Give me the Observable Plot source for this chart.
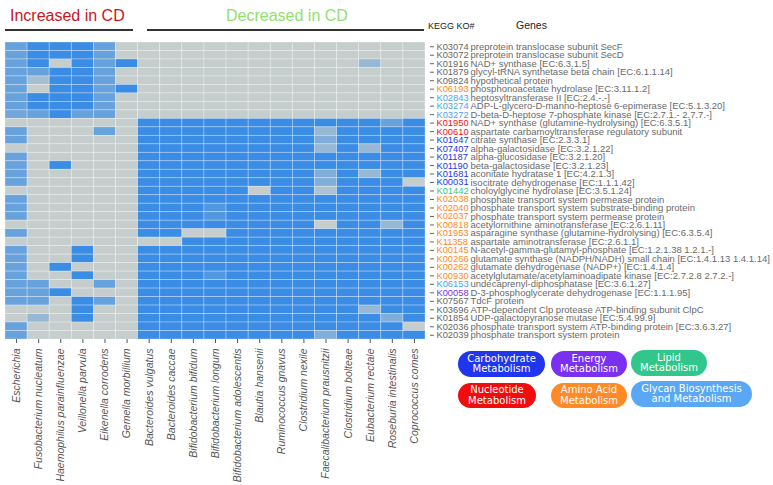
<!DOCTYPE html>
<html>
<head>
<meta charset="utf-8">
<script src="https://cdn.jsdelivr.net/npm/d3@7"></script>
<script src="https://cdn.jsdelivr.net/npm/@observablehq/plot@0.6"></script>
<style>
  body { margin: 0; background: #fff; }
  #wrap { position: relative; width: 773px; height: 485px; overflow: hidden; font-family: "Liberation Sans", Arial, sans-serif; }
  #chart { position: absolute; left: 0; top: 0; }
  .hdr { position: absolute; white-space: nowrap; line-height: 16px; }
  .rule { position: absolute; height: 1.5px; background: #333; }
  .pill { position: absolute; display: flex; align-items: center; justify-content: center; text-align: center;
          color: #fff; font-family: "DejaVu Sans", Verdana, sans-serif; font-size: 10px; line-height: 10.5px;
          border-radius: 13px; }
</style>
</head>
<body>
<div id="wrap">
  <div id="chart"></div>
  <div class="hdr" style="left:10px;top:8px;font-size:16px;color:#c8161d;">Increased in CD</div>
  <div class="hdr" style="left:226px;top:8px;font-size:16px;color:#8fe06c;">Decreased in CD</div>
  <div class="rule" style="left:5px;top:29px;width:128px;"></div>
  <div class="rule" style="left:147px;top:29px;width:277px;"></div>
  <div class="hdr" style="left:428px;top:18px;font-size:9px;color:#222;">KEGG KO#</div>
  <div class="hdr" style="left:516px;top:17px;font-size:10.5px;color:#222;">Genes</div>
  <div id="legend"></div>
</div>
<script>
const species = [
  "Escherichia", "Fusobacterium nucleatum", "Haemophilus parainfluenzae", "Veillonella parvula",
  "Eikenella corrodens", "Gemella morbillium", "Bacteroides vulgatus", "Bacteroides caccae",
  "Bifidobacterium bifidum", "Bifidobacterium longum", "Bifidobacterium adolescentis", "Blautia hansenii",
  "Ruminococcus gnavus", "Clostridium nexile", "Faecalibacterium prausnitzii", "Clostridium bolteae",
  "Eubacterium rectale", "Roseburia intestinalis", "Coprococcus comes"
];

const kos = [
  "K03074","K03072","K01916","K01879","K09824","K06193","K02843","K03274","K03272",
  "K01950","K00610","K01647","K07407","K01187","K01190","K01681","K00031","K01442",
  "K02038","K02040","K02037","K00818","K01953","K11358","K00145","K00266","K00262",
  "K00930","K06153","K00058","K07567","K03696","K01854","K02036","K02039"
];

const genes = [
  "preprotein translocase subunit SecF",
  "preprotein translocase subunit SecD",
  "NAD+ synthase [EC:6.3.1.5]",
  "glycyl-tRNA synthetase beta chain [EC:6.1.1.14]",
  "hypothetical protein",
  "phosphonoacetate hydrolase [EC:3.11.1.2]",
  "heptosyltransferase II [EC:2.4.-.-]",
  "ADP-L-glycero-D-manno-heptose 6-epimerase [EC:5.1.3.20]",
  "D-beta-D-heptose 7-phosphate kinase [EC:2.7.1.- 2.7.7.-]",
  "NAD+ synthase (glutamine-hydrolysing) [EC:6.3.5.1]",
  "aspartate carbamoyltransferase regulatory subunit",
  "citrate synthase [EC:2.3.3.1]",
  "alpha-galactosidase [EC:3.2.1.22]",
  "alpha-glucosidase [EC:3.2.1.20]",
  "beta-galactosidase [EC:3.2.1.23]",
  "aconitate hydratase 1 [EC:4.2.1.3]",
  "isocitrate dehydrogenase [EC:1.1.1.42]",
  "choloylglycine hydrolase [EC:3.5.1.24]",
  "phosphate transport system permease protein",
  "phosphate transport system substrate-binding protein",
  "phosphate transport system permease protein",
  "acetylornithine aminotransferase [EC:2.6.1.11]",
  "asparagine synthase (glutamine-hydrolysing) [EC:6.3.5.4]",
  "aspartate aminotransferase [EC:2.6.1.1]",
  "N-acetyl-gamma-glutamyl-phosphate [EC:1.2.1.38 1.2.1.-]",
  "glutamate synthase (NADPH/NADH) small chain [EC:1.4.1.13 1.4.1.14]",
  "glutamate dehydrogenase (NADP+) [EC:1.4.1.4]",
  "acetylglutamate/acetylaminoadipate kinase [EC:2.7.2.8 2.7.2.-]",
  "undecaprenyl-diphosphatase [EC:3.6.1.27]",
  "D-3-phosphoglycerate dehydrogenase [EC:1.1.1.95]",
  "TdcF protein",
  "ATP-dependent Clp protease ATP-binding subunit ClpC",
  "UDP-galactopyranose mutase [EC:5.4.99.9]",
  "phosphate transport system ATP-binding protein [EC:3.6.3.27]",
  "phosphate transport system protein"
];

// metabolism category of each KO (none = uncategorised)
const categories = [
  "none","none","none","none","none","amino","glycan","glycan","glycan",
  "nucleotide","nucleotide","carb","carb","carb","carb","carb","carb","lipid",
  "amino","amino","amino","amino","amino","amino","amino","amino","amino",
  "amino","glycan","energy","none","none","none","none","none"
];

const categoryNames = ["carb","energy","lipid","nucleotide","amino","glycan","none"];
const categoryColors = ["#2236ee","#7b2ff0","#2fc98c","#f21010","#ff8a24","#4a9ff2","#666666"];
const legendLabels = ["Carbohydrate<br>Metabolism","Energy<br>Metabolism","Lipid<br>Metabolism",
                      "Nucleotide<br>Metabolism","Amino Acid<br>Metabolism","Glycan Biosynthesis<br>and Metabolism"];
const legendFills = ["#1f35ee","#7b2ff0","#30c68c","#f20d0d","#ff8a26","#5aa8f5"];

// presence level (0 = absent/grey ... 3 = strong blue), rows = KOs, columns = species
const values = [
  [2,3,3,3,2,0, 0,0,0,0,0,0,0,0,0,0,0,0,0],
  [2,3,3,3,2,0, 0,0,0,0,0,0,0,0,0,0,0,0,0],
  [2,3,0,3,2,3, 0,0,0,0,0,0,0,0,0,0,1,0,0],
  [2,2,3,3,2,0, 0,0,0,0,0,0,0,0,0,0,0,0,0],
  [2,0.7,3,3,2,0, 0,0,0,0,0,0,0,0,0,0,0,0,0],
  [2,0,3,3,2,3, 0,0,0,0,0,0,0,0,0,0,0,0,0],
  [2,3,3,3,2,0, 0,0,0,0,0,0,0,0,0,0,0,0,0],
  [2,3,3,3,2,0, 0,0,0,0,0,0,0,0,0,0,0,0,0],
  [1.8,2,3,2,2,0, 0,0,0,0,0,0,0,0,0,0,0,0,0],
  [0,0,0,0,0,0, 3,3,3,3,3,3,3,3,3,3,3,2,3],
  [2,0,0,0,2,0, 3,3,3,3,3,3,3,3,1,3,3,3,3],
  [2,0,0,0,0,0, 3,3,3,3,3,3,3,3,1.5,3,3,3,3],
  [0,0,0,0,0,0, 3,3,3,3,3,3,3,3,1,3,1,3,3],
  [2,0,0,0,0,0, 3,3,3,3,3,3,3,3,3,3,3,3,3],
  [2,0,3,0,0,0, 3,3,3,3,3,3,3,3,3,3,3,3,3],
  [2,0,0,0,0,0, 3,3,3,3,3,3,3,3,1.5,3,1,3,3],
  [2,0,0,0,0,0, 3,3,3,3,3,3,3,3,1.5,3,3,3,0],
  [0,0,0,0,0,0, 3,3,3,3,3,0,3,3,0.5,3,3,3,3],
  [2,0,0,0,0,0, 3,3,3,3,3,3,3,3,3,3,3,3,3],
  [2,0,0,0,0,0, 3,3,3,2.5,3,3,3,3,3,3,3,3,3],
  [2,0,0,0,0,0, 3,3,3,2.5,3,3,3,3,3,3,3,3,3],
  [0,0,0,0,0,0, 3,3,3,3,3,3,3,3,0,3,3,1,3],
  [2,0,0,0,0,0, 3,3,0,0,3,3,3,3,3,3,3,3,3],
  [0,0,0,0,0,0, 0,0,3,3,3,3,3,3,3,3,3,3,3],
  [2,0,0,3,0,0, 3,3,3,3,3,3,3,3,3,3,3,3,3],
  [2,0,0,3,0,0, 3,3,3,3,3,3,3,3,3,3,3,3,3],
  [2,0,3,0,0,0, 3,3,3,3,3,3,3,3,3,3,3,3,3],
  [2,0,0,3,0,0, 3,3,3,2.5,3,3,3,3,3,3,3,3,3],
  [2,2,0,0,2,0, 3,3,3,3,3,3,3,3,3,3,3,3,3],
  [2,2,3,0,0,0, 3,3,3,3,3,3,3,3,3,3,3,3,3],
  [2,2,0,3,2,0, 3,3,3,3,3,3,3,3,3,3,3,3,3],
  [0,0,0,3,0,0, 3,3,3,3,3,3,3,3,3,3,1,3,3],
  [0,1,0,3,0,0, 3,3,3,3,3,3,3,3,3,3,3,1.5,3],
  [2,0,0,0,0,0, 3,3,3,3,3,3,3,3,3,3,3,3,0],
  [2,0,0,0,0,0, 3,3,3,3,3,3,3,3,1.5,3,3,3,3]
];

const cells = kos.flatMap((ko, i) => species.map((sp, j) => ({ko, sp, v: values[i][j]})));
const rows = kos.map((ko, i) => ({ko, gene: genes[i], cat: categories[i]}));
const catColor = new Map(categoryNames.map((c, i) => [c, categoryColors[i]]));

const chart = Plot.plot({
  width: 773,
  height: 485,
  marginLeft: 5,
  marginRight: 348,
  marginTop: 42,
  marginBottom: 146,
  style: {fontFamily: "Liberation Sans, Arial, sans-serif", background: "transparent", color: "#555"},
  x: {domain: species, padding: 0, round: false, label: null},
  y: {domain: kos, padding: 0, round: false, label: null},
  color: {type: "linear", domain: [0, 3], range: ["#c5cecd", "#3a8ce5"], interpolate: "rgb"},
  marks: [
    Plot.cell(cells, {x: "sp", y: "ko", fill: "v", stroke: "white", strokeOpacity: 0.35, strokeWidth: 0.8}),
    Plot.axisX({anchor: "bottom", tickRotate: -90, tickSize: 4, tickPadding: 5, fontSize: 10.5,
                fontStyle: "italic", label: null, color: "#555"}),
    Plot.axisY({anchor: "right", tickSize: 4, dx: 4, tickFormat: () => "", label: null, color: "#666"}),
    Plot.text(rows, {y: "ko", text: "ko", frameAnchor: "right", dx: 11, textAnchor: "start",
                     fill: d => catColor.get(d.cat), fontSize: 9.3}),
    Plot.text(rows, {y: "ko", text: "gene", frameAnchor: "right", dx: 45, textAnchor: "start",
                     fill: "#6a6a6a", fontSize: 9.5})
  ]
});
document.getElementById("chart").append(chart);

// legend pills
const pillBoxes = [
  [458, 351, 87, 26], [551, 351, 76, 26], [631, 350, 76, 26],
  [458, 383, 78, 25], [551, 383, 76, 25], [631, 381, 121, 26]
];
const legend = document.getElementById("legend");
legendLabels.forEach((lab, i) => {
  const [l, t, w, h] = pillBoxes[i];
  const d = document.createElement("div");
  d.className = "pill";
  d.style.cssText = `left:${l}px;top:${t}px;width:${w}px;height:${h}px;background:${legendFills[i]};`;
  d.innerHTML = lab;
  legend.append(d);
});
</script>
</body>
</html>
